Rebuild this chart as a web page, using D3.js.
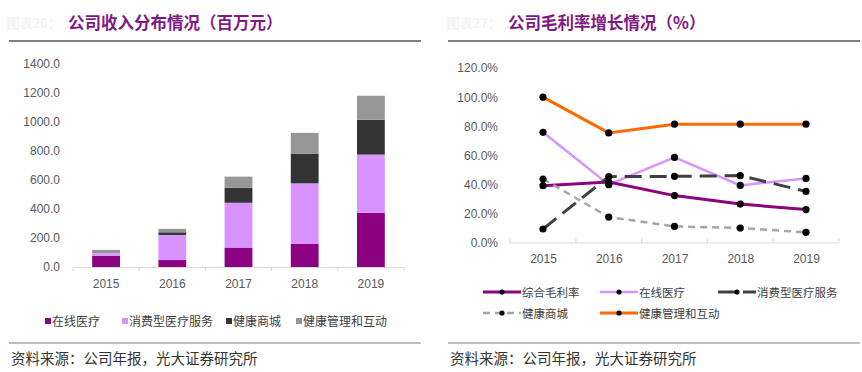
<!DOCTYPE html>
<meta charset="utf-8">
<style>
    body { margin: 0; background: #fff; }
    svg { display: block; }
    .tick text { font-family: "Liberation Sans", Arial, sans-serif; font-size: 12px; fill: #595959; }
    .title { font-family: "Noto Sans CJK SC", sans-serif; font-size: 16.5px; font-weight: bold; fill: #7f1a84; }
    .prefix { font-family: "Noto Sans CJK SC", sans-serif; font-size: 13px; font-weight: bold; fill: #f3f3f3; }
    .legend text { font-family: "Noto Sans CJK SC", sans-serif; font-size: 12px; fill: #404040; }
    .legend2 text { font-size: 11.5px; }
    .source { font-family: "Noto Sans CJK SC", sans-serif; font-size: 14.5px; fill: #333; }
</style>
<svg width="862" height="372"></svg>
<script src="https://cdn.jsdelivr.net/npm/d3@7"></script>
<script>
    // ---- data ----
    var years = ["2015", "2016", "2017", "2018", "2019"];

    // revenue, million yuan (stacked)
    var revSeries = ["在线医疗", "消费型医疗服务", "健康商城", "健康管理和互动"];
    var revOnline = [78, 48, 134, 161, 374];
    var revConsumer = [17, 173, 309, 416, 401];
    var revMall = [0, 18, 104, 205, 240];
    var revMgmt = [23, 24, 76, 143, 166];
    var revTicks = [0, 200, 400, 600, 800, 1000, 1200, 1400];

    // gross margin, %
    var gmSeries = ["综合毛利率", "在线医疗", "消费型医疗服务", "健康商城", "健康管理和互动"];
    var gmTotal = [39.3, 41.8, 32.5, 26.7, 22.9];
    var gmOnline = [75.9, 40.0, 58.7, 39.5, 44.3];
    var gmConsumer = [9.6, 45.5, 45.7, 46.2, 35.4];
    var gmMall = [43.9, 17.8, 11.4, 10.3, 7.3];
    var gmMgmt = [100.0, 75.5, 81.5, 81.5, 81.5];
    var gmTicks = [0, 20, 40, 60, 80, 100, 120];

    var svg = d3.select("svg");

    // ---- frame: titles, rules, source ----
    function frame(x0, x1, prefix, title, titleX) {
        svg.append("text").attr("class", "prefix").attr("x", titleX - 7).attr("y", 28)
            .attr("text-anchor", "end").text(prefix);
        svg.append("text").attr("class", "title").attr("x", titleX).attr("y", 29).text(title);
        svg.append("line").attr("x1", x0).attr("x2", x1).attr("y1", 41).attr("y2", 41)
            .attr("stroke", "#7f7f7f").attr("stroke-width", 2);
        svg.append("line").attr("x1", x0).attr("x2", x1).attr("y1", 343).attr("y2", 343)
            .attr("stroke", "#7f7f7f").attr("stroke-width", 1.2);
        svg.append("text").attr("class", "source").attr("x", x0 + 2).attr("y", 364)
            .text("资料来源：公司年报，光大证券研究所");
    }
    frame(9, 421, "图表26：", "公司收入分布情况（百万元）", 68);
    frame(448, 860, "图表27：", "公司毛利率增长情况（%）", 508);

    // ---- left: stacked bars ----
    var x1 = d3.scaleBand().domain(years).range([73, 404]).paddingInner(0.58).paddingOuter(0.29);
    var y1 = d3.scaleLinear().domain([0, 1400]).range([267, 64]);
    var revColors = ["#8c0082", "#d993ff", "#333333", "#969696"];

    var revRows = years.map(function(yr, i) {
        return { year: yr, a: revOnline[i], b: revConsumer[i], c: revMall[i], d: revMgmt[i] };
    });
    var stack = d3.stack().keys(["a", "b", "c", "d"])(revRows);

    svg.append("g").selectAll("g").data(stack).enter().append("g")
        .attr("fill", function(d, i) { return revColors[i]; })
        .selectAll("rect").data(function(d) { return d; }).enter().append("rect")
        .attr("x", function(d) { return x1(d.data.year); })
        .attr("width", x1.bandwidth())
        .attr("y", function(d) { return y1(d[1]); })
        .attr("height", function(d) { return y1(d[0]) - y1(d[1]); });

    var yAxis1 = svg.append("g").attr("transform", "translate(61,0)")
        .call(d3.axisLeft(y1).tickValues(revTicks).tickSize(0).tickFormat(d3.format(".1f")));
    yAxis1.select(".domain").remove();
    yAxis1.selectAll("text").attr("x", -1);

    var xAxis1 = svg.append("g").attr("transform", "translate(0,267)")
        .call(d3.axisBottom(x1).tickSize(0).tickPadding(12));
    xAxis1.select(".domain").attr("stroke", "#d9d9d9");
    var step1 = x1.step();
    svg.append("g").selectAll("line").data(d3.range(6)).enter().append("line")
        .attr("x1", function(i) { return x1.range()[0] + i * step1; })
        .attr("x2", function(i) { return x1.range()[0] + i * step1; })
        .attr("y1", 267).attr("y2", 271).attr("stroke", "#d9d9d9");

    var leg1 = svg.append("g").attr("class", "legend");
    var legX1 = [45, 122, 226, 296];
    revSeries.forEach(function(name, i) {
        var g = leg1.append("g").attr("transform", "translate(" + legX1[i] + ",321)");
        g.append("rect").attr("x", 0).attr("y", -3).attr("width", 6).attr("height", 6).attr("fill", revColors[i]);
        g.append("text").attr("x", 7).attr("y", 4.5).text(name);
    });

    // ---- right: lines ----
    var x2 = d3.scalePoint().domain(years).range([543, 806]);
    var y2 = d3.scaleLinear().domain([0, 120]).range([243, 68]);

    var yAxis2 = svg.append("g").attr("transform", "translate(501,0)")
        .call(d3.axisLeft(y2).tickValues(gmTicks).tickSize(0).tickFormat(function(d) { return d.toFixed(1) + "%"; }));
    yAxis2.select(".domain").remove();

    var step2 = x2.step();
    var xr0 = x2.range()[0] - step2 / 2;
    svg.append("line").attr("x1", xr0).attr("x2", xr0 + 5 * step2).attr("y1", 243).attr("y2", 243)
        .attr("stroke", "#d9d9d9");
    svg.append("g").selectAll("line").data(d3.range(6)).enter().append("line")
        .attr("x1", function(i) { return xr0 + i * step2; })
        .attr("x2", function(i) { return xr0 + i * step2; })
        .attr("y1", 243).attr("y2", 238).attr("stroke", "#d9d9d9");
    var xAxis2 = svg.append("g").attr("transform", "translate(0,243)")
        .call(d3.axisBottom(x2).tickSize(0).tickPadding(11));
    xAxis2.select(".domain").remove();

    var lineStyles = [
        { data: gmTotal, color: "#8c0082", width: 3, dash: null },
        { data: gmOnline, color: "#d993ff", width: 2.5, dash: null },
        { data: gmConsumer, color: "#404040", width: 3, dash: "17,8" },
        { data: gmMall, color: "#a6a6a6", width: 2.5, dash: "7,5" },
        { data: gmMgmt, color: "#ff6a00", width: 3, dash: null }
    ];
    var drawOrder = [4, 1, 0, 3, 2];
    var line = d3.line()
        .x(function(d, i) { return x2(years[i]); })
        .y(function(d) { return y2(d); });

    drawOrder.forEach(function(k) {
        var s = lineStyles[k];
        svg.append("path").datum(s.data)
            .attr("fill", "none")
            .attr("stroke", s.color)
            .attr("stroke-width", s.width)
            .attr("stroke-dasharray", s.dash)
            .attr("d", line);
    });
    drawOrder.forEach(function(k) {
        var s = lineStyles[k];
        svg.append("g").selectAll("circle").data(s.data).enter().append("circle")
            .attr("cx", function(d, i) { return x2(years[i]); })
            .attr("cy", function(d) { return y2(d); })
            .attr("r", 3.6)
            .attr("fill", "#000");
    });

    var leg2 = svg.append("g").attr("class", "legend legend2");
    var legPos2 = [[483, 292], [600, 292], [718, 292], [483, 313], [600, 313]];
    gmSeries.forEach(function(name, i) {
        var s = lineStyles[i];
        var g = leg2.append("g").attr("transform", "translate(" + legPos2[i][0] + "," + legPos2[i][1] + ")");
        g.append("line").attr("x1", 0).attr("x2", 38).attr("y1", 0).attr("y2", 0)
            .attr("stroke", s.color).attr("stroke-width", s.width)
            .attr("stroke-dasharray", s.dash);
        g.append("circle").attr("cx", 19).attr("cy", 0).attr("r", 2.6).attr("fill", "#000");
        g.append("text").attr("x", 39).attr("y", 4.5).text(name);
    });
</script>
